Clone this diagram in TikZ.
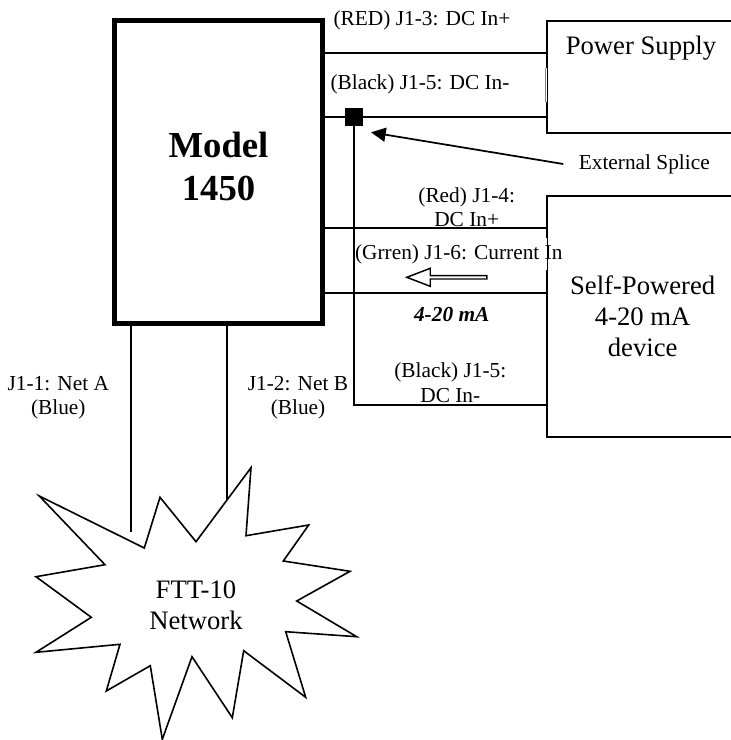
\documentclass[tikz,border=0pt]{standalone}
\usepackage{fontspec}
\setmainfont{Liberation Serif}
\usepackage{tikz}
\usetikzlibrary{arrows.meta,shapes.arrows}

\tikzset{
  wire/.style={line width=1.3pt},
  boxpart/.style={draw,line width=1.5pt,rectangle,inner sep=0pt},
  edgecut/.style={white,line width=2.2pt},
  pin/.style={font=\fontsize{16}{18}\selectfont,inner sep=0pt},
  pintwo/.style={pin,align=center},
  big/.style={font=\fontsize{20}{23.5}\selectfont,align=center,inner sep=0pt}
}

\begin{document}
\begin{tikzpicture}[x=.75pt,y=-.75pt]
  \path[use as bounding box,clip] (0,0) rectangle (731,740);

  % the two boxes run out over the right edge of the page
  \node[draw,line width=3.75pt,minimum width=156pt,minimum height=227.6pt,inner sep=0pt] (model) at (218.5,171.75) {};
  \node[font=\fontsize{27.5}{32.5}\selectfont\bfseries,align=center] (modeltext) at (218.5,166.5) {Model\\1450};
  \node[boxpart,minimum width=144pt,minimum height=84pt] (power) at (642.7,76.7) {};
  \node[big,anchor=base] (powertext) at (641,54.3) {Power Supply};
  \node[boxpart,big,minimum width=144pt,minimum height=180.5pt] (device) at (642.7,316.3) {Self-Powered\\4-20 mA\\device};

  % labels blank out the box edge behind them
  \draw[edgecut] (power.west |- 0,68) -- (power.west |- 0,102);
  \draw[gray,line width=.5pt] (power.west |- 0,68) -- (power.west |- 0,102);
  \draw[edgecut] (device.west |- 0,238) -- (device.west |- 0,270);

  \coordinate (psplus) at (power.west |- 0,53);
  \coordinate (psminus) at (power.west |- 0,117);
  \coordinate (devplus) at (device.west |- 0,228);
  \coordinate (devcur) at (device.west |- 0,293);
  \coordinate (devminus) at (device.west |- 0,405);

  \node[fill=black,minimum size=13.5pt,inner sep=0pt] (splice) at (354,116.5) {};

  \draw[wire] (model.east |- psplus) -- (psplus);
  \draw[wire] (model.east |- psminus) -- (psminus);
  \draw[wire] (model.east |- devplus) -- (devplus);
  \draw[wire] (model.east |- devcur) -- (devcur);
  \draw[wire] (splice.center) |- (devminus);

  % network side
  \coordinate (neta) at (130.7,532);
  \coordinate (netb) at (226.7,500);
  \draw[wire] (model.south -| neta) -- (neta);
  \draw[wire] (model.south -| netb) -- (netb);

  \draw[line width=1.2pt,fill=white,line join=miter] (39.3,496) -- (144.3,548) -- (160,497.3) -- (196,541.7) -- (251,467.7)
  -- (246,535.7) -- (308.7,525) -- (283.3,561) -- (350,571.3) -- (296.7,601)
  -- (356.7,636.7) -- (285.7,631.7) -- (305.7,697.3) -- (243.7,650.7) -- (232.3,717.7)
  -- (192,656.7) -- (162.3,739.3) -- (150.3,665.7) -- (106.3,691) -- (120,644.3)
  -- (36,652.3) -- (91.3,617.3) -- (36,576.7) -- (105,564.7) -- cycle;
  \node[big] (ftt) at (196,605.5) {FTT-10\\Network};

  \node[pin,anchor=base] (redps) at (422,25) {(RED) J1-3: DC In+};
  \node[pin,anchor=base] (blackps) at (420,89) {(Black) J1-5: DC In-};
  \node[pin,anchor=base] (splicetext) at (644.3,169) {External Splice};
  \node[pintwo] (reddev) at (466.7,207) {(Red) J1-4:\\DC In+};
  \node[pin,anchor=base] (greendev) at (458.8,259) {(Grren) J1-6: Current In};
  \node[pin,anchor=base,font=\fontsize{16}{18}\selectfont\bfseries\itshape] (milli) at (451.7,321.7) {4-20 mA};
  \node[pintwo,font=\fontsize{16}{18.75}\selectfont] (blackdev) at (450.3,383) {(Black) J1-5:\\DC In-};
  \node[pintwo] (netatext) at (58.3,398) {J1-1: Net A\\(Blue)};
  \node[pintwo] (netbtext) at (298,398) {J1-2: Net B\\(Blue)};

  \node[draw,line width=1.1pt,single arrow,shape border rotate=180,minimum height=60pt,minimum width=13.5pt,
  single arrow head extend=2.4pt,single arrow head indent=0pt,single arrow tip angle=42,inner sep=0pt] (current) at (449,277.3) {};

  \coordinate (splicetail) at (563.3,164);
  \coordinate (splicetip) at (371,132.3);
  \draw[wire,-{Triangle[length=11pt,width=10.5pt]}] (splicetail) -- (splicetip);
\end{tikzpicture}
\end{document}
